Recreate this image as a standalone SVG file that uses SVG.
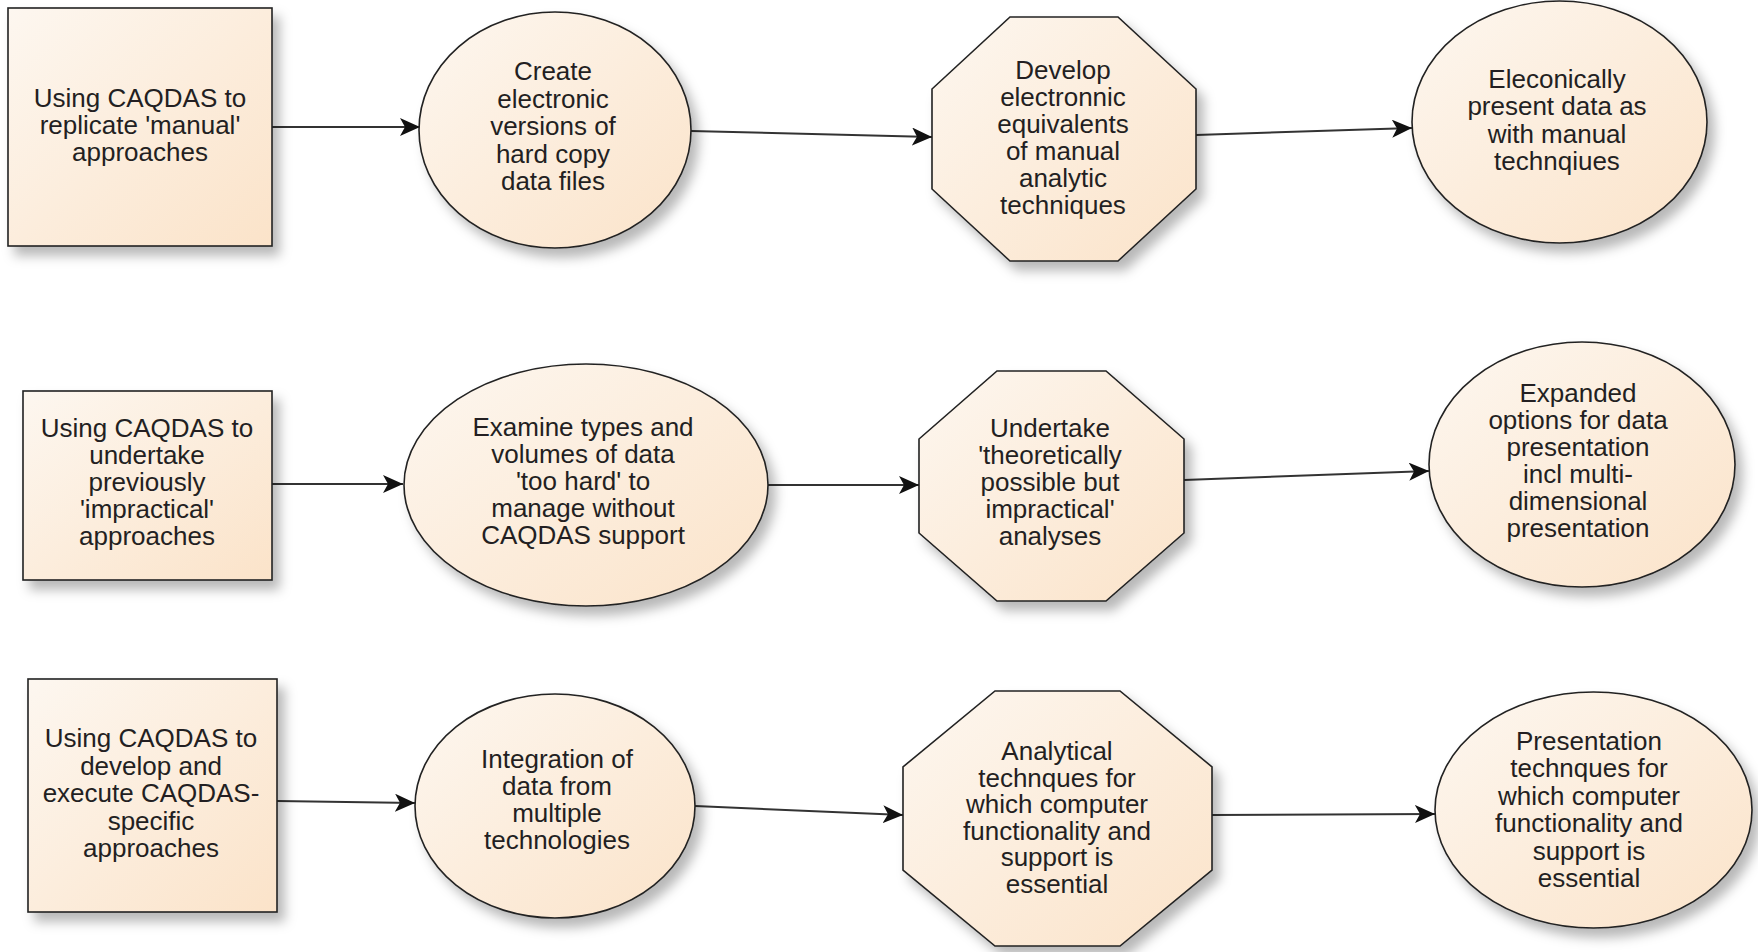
<svg xmlns="http://www.w3.org/2000/svg" width="1758" height="952" viewBox="0 0 1758 952">
<defs>
<linearGradient id="fill" x1="0" y1="0" x2="1" y2="1">
<stop offset="0" stop-color="#fdf7f0"/>
<stop offset="1" stop-color="#fbe3c9"/>
</linearGradient>
<filter id="shadow" x="-20%" y="-20%" width="150%" height="150%">
<feDropShadow dx="7" dy="9" stdDeviation="6" flood-color="#000" flood-opacity="0.28"/>
</filter>
<marker id="arrow" markerUnits="userSpaceOnUse" markerWidth="22" markerHeight="20" refX="20" refY="9" orient="auto" viewBox="0 0 22 20">
<path d="M0,0 L20,9 L0,18 L5,9 z" fill="#111"/>
</marker>
<style>
.shape{fill:url(#fill);stroke:#222;stroke-width:1.6;filter:url(#shadow)}
.lbl{font-family:"Liberation Sans",Arial,sans-serif;font-size:26px;fill:#231f22;text-anchor:middle}
.conn{fill:none;stroke:#333;stroke-width:2;marker-end:url(#arrow)}
</style>
</defs>
<rect width="1758" height="952" fill="#fff"/>

<g id="connectors">
<line class="conn" x1="272" y1="127" x2="420" y2="127"/>
<line class="conn" x1="691" y1="131" x2="932" y2="137"/>
<line class="conn" x1="1196" y1="135" x2="1412" y2="128"/>
<line class="conn" x1="272" y1="484" x2="403" y2="484"/>
<line class="conn" x1="768" y1="485" x2="919" y2="485"/>
<line class="conn" x1="1184" y1="480" x2="1429" y2="471"/>
<line class="conn" x1="277" y1="801" x2="415" y2="803"/>
<line class="conn" x1="695" y1="806" x2="903" y2="815"/>
<line class="conn" x1="1212" y1="815" x2="1435" y2="814"/>
</g>

<g id="n1">
<rect class="shape" x="8" y="8" width="264" height="238"/>
<text class="lbl"><tspan x="140" y="107">Using CAQDAS to</tspan><tspan x="140" y="134">replicate 'manual'</tspan><tspan x="140" y="161">approaches</tspan></text>
</g>
<g id="n2">
<ellipse class="shape" cx="555" cy="130" rx="136" ry="118"/>
<text class="lbl"><tspan x="553" y="80">Create</tspan><tspan x="553" y="107.5">electronic</tspan><tspan x="553" y="135">versions of</tspan><tspan x="553" y="162.5">hard copy</tspan><tspan x="553" y="190">data files</tspan></text>
</g>
<g id="n3">
<polygon class="shape" points="1010,17 1118,17 1196,89 1196,189 1118,261 1010,261 932,189 932,89"/>
<text class="lbl"><tspan x="1063" y="79">Develop</tspan><tspan x="1063" y="106">electronnic</tspan><tspan x="1063" y="133">equivalents</tspan><tspan x="1063" y="160">of manual</tspan><tspan x="1063" y="187">analytic</tspan><tspan x="1063" y="214">techniques</tspan></text>
</g>
<g id="n4">
<ellipse class="shape" cx="1559.5" cy="122" rx="147.5" ry="121"/>
<text class="lbl"><tspan x="1557" y="88">Eleconically</tspan><tspan x="1557" y="115">present data as</tspan><tspan x="1557" y="143">with manual</tspan><tspan x="1557" y="170">technqiues</tspan></text>
</g>

<g id="n5">
<rect class="shape" x="23" y="391" width="249" height="189"/>
<text class="lbl"><tspan x="147" y="437">Using CAQDAS to</tspan><tspan x="147" y="464">undertake</tspan><tspan x="147" y="491">previously</tspan><tspan x="147" y="518">'impractical'</tspan><tspan x="147" y="545">approaches</tspan></text>
</g>
<g id="n6">
<ellipse class="shape" cx="586" cy="485" rx="182" ry="121"/>
<text class="lbl"><tspan x="583" y="436">Examine types and</tspan><tspan x="583" y="463">volumes of data</tspan><tspan x="583" y="490">'too hard' to</tspan><tspan x="583" y="517">manage without</tspan><tspan x="583" y="544">CAQDAS support</tspan></text>
</g>
<g id="n7">
<polygon class="shape" points="997,371 1106,371 1184,439 1184,533 1106,601 997,601 919,533 919,439"/>
<text class="lbl"><tspan x="1050" y="437">Undertake</tspan><tspan x="1050" y="464">'theoretically</tspan><tspan x="1050" y="491">possible but</tspan><tspan x="1050" y="518">impractical'</tspan><tspan x="1050" y="545">analyses</tspan></text>
</g>
<g id="n8">
<ellipse class="shape" cx="1582" cy="464.5" rx="153" ry="122.5"/>
<text class="lbl"><tspan x="1578" y="402">Expanded</tspan><tspan x="1578" y="429">options for data</tspan><tspan x="1578" y="456">presentation</tspan><tspan x="1578" y="483">incl multi-</tspan><tspan x="1578" y="510">dimensional</tspan><tspan x="1578" y="537">presentation</tspan></text>
</g>

<g id="n9">
<rect class="shape" x="28" y="679" width="249" height="233"/>
<text class="lbl"><tspan x="151" y="747">Using CAQDAS to</tspan><tspan x="151" y="774.5">develop and</tspan><tspan x="151" y="802">execute CAQDAS-</tspan><tspan x="151" y="829.5">specific</tspan><tspan x="151" y="857">approaches</tspan></text>
</g>
<g id="n10">
<ellipse class="shape" cx="555" cy="806" rx="140" ry="112"/>
<text class="lbl"><tspan x="557" y="768">Integration of</tspan><tspan x="557" y="795">data from</tspan><tspan x="557" y="822">multiple</tspan><tspan x="557" y="849">technologies</tspan></text>
</g>
<g id="n11">
<polygon class="shape" points="995,691 1120,691 1212,767 1212,870 1120,946 995,946 903,870 903,767"/>
<text class="lbl"><tspan x="1057" y="760">Analytical</tspan><tspan x="1057" y="786.5">technques for</tspan><tspan x="1057" y="813">which computer</tspan><tspan x="1057" y="839.5">functionality and</tspan><tspan x="1057" y="866">support is</tspan><tspan x="1057" y="892.5">essential</tspan></text>
</g>
<g id="n12">
<ellipse class="shape" cx="1593.5" cy="810" rx="158.5" ry="118"/>
<text class="lbl"><tspan x="1589" y="750">Presentation</tspan><tspan x="1589" y="777.4">technques for</tspan><tspan x="1589" y="804.8">which computer</tspan><tspan x="1589" y="832.2">functionality and</tspan><tspan x="1589" y="859.6">support is</tspan><tspan x="1589" y="887">essential</tspan></text>
</g>
</svg>
